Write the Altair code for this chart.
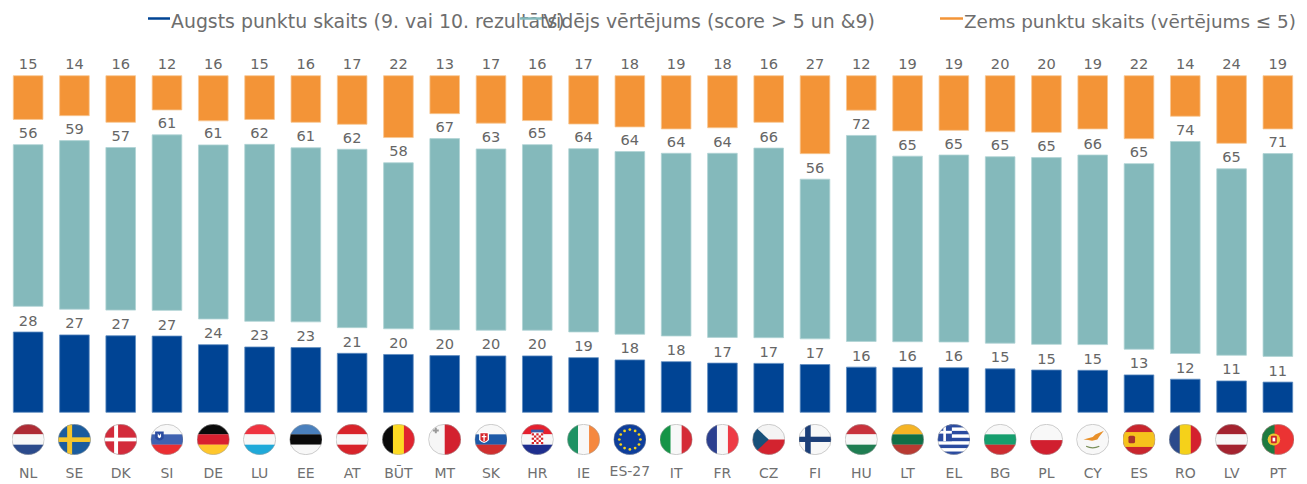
import base64
import math
import altair as alt
import pandas as pd

countries = ["NL","SE","DK","SI","DE","LU","EE","AT","BŪT","MT","SK","HR","IE","ES-27",
             "IT","FR","CZ","FI","HU","LT","EL","BG","PL","CY","ES","RO","LV","PT"]
flag_codes = ["NL","SE","DK","SI","DE","LU","EE","AT","BE","MT","SK","HR","IE","EU",
              "IT","FR","CZ","FI","HU","LT","EL","BG","PL","CY","ES","RO","LV","PT"]
# measured (unrounded) heights
high_vals = [27.9,26.9,26.6,26.5,23.5,22.7,22.5,20.5,20.1,19.7,19.6,19.6,19.0,18.2,
             17.6,17.1,17.0,16.6,15.7,15.6,15.5,15.1,14.7,14.6,13.0,11.5,10.9,10.5]
mid_vals = [56.2,58.6,56.5,61.0,60.5,61.5,60.5,62.0,57.7,66.5,63.0,64.5,63.7,63.5,
            63.5,64.0,65.9,55.5,71.6,64.5,65.0,64.8,64.9,65.9,64.5,73.7,64.8,70.5]
low_vals = [15.2,13.9,16.2,11.9,15.7,15.2,16.2,16.9,21.5,13.2,16.5,15.6,16.8,17.8,
            18.5,18.1,16.2,27.1,12.0,19.2,19.0,19.5,19.7,18.5,21.9,14.1,23.5,18.5]
# printed labels
high_labels = [28,27,27,27,24,23,23,21,20,20,20,20,19,18,18,17,17,17,16,16,16,15,15,15,13,12,11,11]
mid_labels = [56,59,57,61,61,62,61,62,58,67,63,65,64,64,64,64,66,56,72,65,65,65,65,66,65,74,65,71]
low_labels = [15,14,16,12,16,15,16,17,22,13,17,16,17,18,19,18,16,27,12,19,19,20,20,19,22,14,24,19]

series_names = ["Augsts punktu skaits (9. vai 10. rezultāts)",
                "Vidējs vērtējums (score > 5 un &9)",
                "Zems punktu skaits (vērtējums ≤ 5)"]
series_colors = ["#004494", "#84B9BB", "#F39437"]
stroke_colors = ["#5F8DC0", "#B0D3D4", "#F8C792"]
GAP = 8.93
TOP = 117.0
UNIT = 2.877
PLOT_H = 404.3
PLOT_W = 1290

rows = []
for i, c in enumerate(countries):
    a = high_vals[i]
    rows.append(dict(c=c, s=series_names[0], y0=0, y1=a, lab=high_labels[i]))
    rows.append(dict(c=c, s=series_names[1], y0=a + GAP, y1=a + GAP + mid_vals[i], lab=mid_labels[i]))
    rows.append(dict(c=c, s=series_names[2], y0=TOP - low_vals[i], y1=TOP, lab=low_labels[i]))
df = pd.DataFrame(rows)


def hb(*cols):
    n = len(cols)
    return "".join(f'<rect x="0" y="{i*100/n}" width="100" height="{100/n+.5}" fill="{k}"/>' for i, k in enumerate(cols))


def vb(*cols):
    n = len(cols)
    return "".join(f'<rect y="0" x="{i*100/n}" height="100" width="{100/n+.5}" fill="{k}"/>' for i, k in enumerate(cols))


def stars():
    s = ""
    for i in range(12):
        a = i * math.pi / 6
        s += f'<circle cx="{50+32*math.cos(a):.1f}" cy="{50+32*math.sin(a):.1f}" r="4.2" fill="#F7D417"/>'
    return s


greece = '<rect width="100" height="100" fill="#fff"/>' + "".join(
    f'<rect y="{y}" width="100" height="11.1" fill="#2A4BA0"/>' for y in (0, 22.2, 44.4, 66.6, 88.8)
) + '<rect width="44" height="55.5" fill="#2A4BA0"/><rect x="18" width="8" height="55.5" fill="#fff"/><rect y="22" width="44" height="9" fill="#fff"/>'

flags = {
    "NL": hb("#AE2B35", "#F8F8F8", "#2B4A8C"),
    "SE": '<rect width="100" height="100" fill="#1B5C9E"/><rect x="28" width="15" height="100" fill="#F5C52C"/><rect y="43" width="100" height="15" fill="#F5C52C"/>',
    "DK": '<rect width="100" height="100" fill="#D32B3B"/><rect x="30" width="12" height="100" fill="#fff"/><rect y="44" width="100" height="12" fill="#fff"/>',
    "SI": hb("#F8F8F8", "#3F62B0", "#EB2E32") + '<path d="M14 24h26v22q-13 14-26 0z" fill="#2A4BA0"/><path d="M22 30l5 8 5-8v12l-5 4-5-4z" fill="#fff"/>',
    "DE": hb("#0A0A0A", "#D9202F", "#FFC72C"),
    "LU": hb("#EF3340", "#F8F8F8", "#1FA9D9"),
    "EE": hb("#4A80BD", "#0A0A0A", "#F8F8F8"),
    "AT": hb("#D8232A", "#F8F8F8", "#D8232A"),
    "BE": vb("#0A0A0A", "#FDDA24", "#E0242F"),
    "MT": vb("#F6F6F6", "#D3212F") + '<path d="M20 12h6v6h6v6h-6v6h-6v-6h-6v-6h6z" fill="#999"/>',
    "SK": hb("#F8F8F8", "#1E5AA8", "#D02E2E") + '<path d="M14 26h30v26q-15 18-30 0z" fill="#fff"/><path d="M18 30h22v21q-11 13-22 0z" fill="#D6262C"/><path d="M27 33h4v6h5v4h-5v12h-4v-12h-5v-4h5z" fill="#fff"/>',
    "HR": hb("#E5202E", "#F8F8F8", "#1E2E8E") + '<rect x="31" y="26" width="38" height="40" rx="8" fill="#fff"/>' + "".join(
        f'<rect x="{33+7*c_}" y="{30+7*r_}" width="7" height="7" fill="#D6262C"/>' for r_ in range(5) for c_ in range(5) if (r_+c_) % 2 == 0
    ) + '<rect x="31" y="18" width="38" height="9" fill="#3A5BA8"/>',
    "IE": vb("#1E9263", "#F8F8F8", "#F5883F"),
    "EU": '<rect width="100" height="100" fill="#0E3E9B"/>' + stars(),
    "IT": vb("#159447", "#F8F8F8", "#D52B36"),
    "FR": vb("#2B3F8F", "#F8F8F8", "#EE3B45"),
    "CZ": hb("#F4F4F4", "#D3232F") + '<path d="M0 0L50 50L0 100z" fill="#17507A"/>',
    "FI": '<rect width="100" height="100" fill="#F8F8F8"/><rect x="20" width="17" height="100" fill="#1C3F78"/><rect y="41" width="100" height="17" fill="#1C3F78"/>',
    "HU": hb("#C8323C", "#F8F8F8", "#1F7D52"),
    "LT": hb("#F5B425", "#0F6F47", "#B83A32"),
    "EL": greece,
    "BG": hb("#F8F8F8", "#169E6E", "#CE2B30"),
    "PL": '<rect width="100" height="100" fill="#F8F8F8"/><rect y="52" width="100" height="48" fill="#D11F2F"/>',
    "CY": '<rect width="100" height="100" fill="#F8F8F8"/><path d="M22 50l28-8 8-8 26-12-14 18-6 10-16 4-12-2z" fill="#E8902A"/><path d="M30 72q20 10 40 0" stroke="#7A8F5A" stroke-width="4" fill="none"/>',
    "ES": '<rect width="100" height="100" fill="#C9252D"/><rect y="26" width="100" height="48" fill="#F6C21C"/><rect x="18" y="38" width="20" height="24" rx="5" fill="#A8332B"/>',
    "RO": vb("#2B4A8C", "#F5D11A", "#D4202E"),
    "LV": hb("#A4232F", "#F8F8F8", "#A4232F"),
    "PT": '<rect width="100" height="100" fill="#EB3333"/><rect width="40" height="100" fill="#1E7A3F"/><circle cx="38" cy="50" r="19" fill="#F2C230"/><rect x="29" y="38" width="18" height="24" rx="4" fill="#C9252D"/><rect x="34" y="44" width="8" height="12" fill="#fff"/>',
}


def uri(code):
    svg = ('<svg xmlns="http://www.w3.org/2000/svg" viewBox="0 0 100 100">'
           '<defs><clipPath id="c"><circle cx="50" cy="50" r="49"/></clipPath></defs>'
           f'<g clip-path="url(#c)">{flags[code]}</g>'
           '<circle cx="50" cy="50" r="49" fill="none" stroke="#A0A0A0" stroke-width="1.6"/></svg>')
    return "data:image/svg+xml;base64," + base64.b64encode(svg.encode()).decode()


flag_df = pd.DataFrame({"c": countries, "url": [uri(k) for k in flag_codes]})

x_enc = alt.X("c:N", sort=countries, title=None,
              scale=alt.Scale(paddingInner=0.36, paddingOuter=0.115),
              axis=alt.Axis(domain=False, ticks=False, labelAngle=0, labelPadding=54,
                            labelFont="DejaVu Sans", labelFontSize=14, labelColor="#707070",
                            labelExpr="datum.label == 'ES-27' ? '' : datum.label"))
y_scale = alt.Scale(domain=[0, PLOT_H / UNIT], nice=False, zero=False)

bars = alt.Chart(df).mark_bar(strokeWidth=0.8).encode(
    x=x_enc,
    y=alt.Y("y0:Q", scale=y_scale, axis=None, title=None),
    y2="y1:Q",
    color=alt.Color("s:N", scale=alt.Scale(domain=series_names, range=series_colors), legend=None),
    stroke=alt.Stroke("s:N", scale=alt.Scale(domain=series_names, range=stroke_colors), legend=None),
)
values = alt.Chart(df).mark_text(baseline="alphabetic", dy=-6.5, font="DejaVu Sans", fontSize=14.6, color="#666666").encode(
    x=alt.X("c:N", sort=countries),
    y=alt.Y("y1:Q", scale=y_scale),
    text="lab:Q",
)
flag_marks = alt.Chart(flag_df).mark_image(width=33, height=31, aspect=False, align="center", baseline="middle").encode(
    x=alt.X("c:N", sort=countries),
    y=alt.value(431.5),
    url="url:N",
)
es27 = alt.Chart(pd.DataFrame({"c": ["ES-27"]})).mark_text(
    font="DejaVu Sans", fontSize=14, color="#707070", baseline="middle"
).encode(x=alt.X("c:N", sort=countries), y=alt.value(464.5), text="c:N")

lg = pd.DataFrame({"s": series_names, "x0": [140, 512, 932], "x1": [162, 534, 955],
                   "tx": [163, 535.5, 956], "fs": [18.9, 18.9, 18.4]})
layers = [bars, values, flag_marks, es27]
for i in range(3):
    r = lg.iloc[[i]]
    layers.append(alt.Chart(r).mark_rule(strokeWidth=2.5, color=series_colors[i]).encode(
        x=alt.value(float(r.x0.iloc[0])), x2=alt.value(float(r.x1.iloc[0])), y=alt.value(10.5)))
    layers.append(alt.Chart(r).mark_text(align="left", baseline="middle", font="DejaVu Sans",
                                         fontSize=float(r.fs.iloc[0]), color="#6E6E6E").encode(
        x=alt.value(float(r.tx.iloc[0])), y=alt.value(14), text="s:N"))

chart = alt.layer(*layers).resolve_scale(color="independent", stroke="independent").properties(
    width=PLOT_W, height=PLOT_H, padding=0
).configure_view(stroke=None)

chart.save("out.html", embed_options={"renderer": "svg", "actions": False})
